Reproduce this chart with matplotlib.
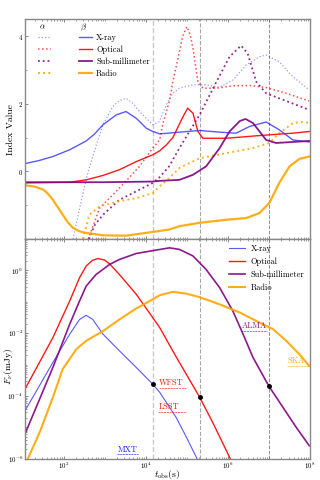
import matplotlib
matplotlib.use('Agg')
import matplotlib.pyplot as plt
import numpy as np

plt.rcParams['font.family'] = 'serif'
plt.rcParams['font.serif'] = ['cmr10', 'DejaVu Serif']
plt.rcParams['mathtext.fontset'] = 'cm'
plt.rcParams['axes.formatter.use_mathtext'] = True

# ---- index values (top panel), log10(t) and value ----
lt_xray_beta = [1.06, 1.4, 1.74, 2.15, 2.55, 2.75, 2.96, 3.28, 3.52, 3.77, 4.01, 4.17, 4.34, 4.82, 5.31, 5.8, 6.2, 6.53, 6.93, 7.25, 7.58, 7.98]
xray_beta = [0.23, 0.32, 0.44, 0.64, 0.90, 1.10, 1.38, 1.67, 1.77, 1.57, 1.28, 1.18, 1.11, 1.16, 1.21, 1.16, 1.13, 1.33, 1.46, 1.23, 0.93, 0.87]
lt_xray_alpha = [2.23, 2.42, 2.6, 2.8, 2.96, 3.2, 3.36, 3.52, 3.68, 3.85, 4.17, 4.33, 4.5, 4.66, 4.82, 5.15, 5.47, 5.8, 6.12, 6.45, 6.77, 6.93, 7.25, 7.58, 7.98]
xray_alpha = [-2.0, -0.93, 0.0, 0.79, 1.38, 1.92, 2.1, 2.16, 2.02, 1.77, 1.38, 1.47, 1.97, 2.31, 2.46, 2.56, 2.56, 2.49, 2.70, 3.15, 3.39, 3.44, 3.24, 2.80, 2.41]

lt_opt_beta = [1.06, 2.15, 2.55, 2.96, 3.36, 3.77, 4.17, 4.34, 4.5, 4.66, 4.82, 4.9, 5.02, 5.15, 5.27, 5.39, 5.96, 6.77, 7.58, 7.98]
opt_beta = [-0.34, -0.32, -0.25, -0.12, 0.05, 0.29, 0.49, 0.61, 0.78, 1.0, 1.4, 1.6, 1.87, 1.72, 1.18, 0.98, 0.98, 1.06, 1.13, 1.18]
lt_opt_alpha = [2.6, 2.88, 3.2, 3.52, 3.85, 4.17, 4.34, 4.41, 4.57, 4.66, 4.82, 4.9, 5.0, 5.08, 5.15, 5.27, 5.39, 5.72, 6.12, 6.53, 6.93, 7.42, 7.98]
opt_alpha = [-2.0, -1.08, -0.69, -0.29, 0.15, 0.69, 0.93, 1.38, 2.05, 2.65, 3.54, 4.0, 4.28, 4.05, 3.64, 2.65, 2.46, 2.46, 2.53, 2.54, 2.48, 2.31, 2.08]

lt_smm_beta = [1.06, 3.0, 4.17, 4.34, 4.82, 5.15, 5.47, 5.8, 6.04, 6.29, 6.43, 6.61, 6.93, 7.17, 7.58, 7.98]
smm_beta = [-0.32, -0.32, -0.30, -0.28, -0.25, -0.10, 0.15, 0.69, 1.18, 1.49, 1.55, 1.43, 0.93, 0.84, 0.87, 0.90]
lt_smm_alpha = [2.62, 2.75, 2.96, 3.36, 3.77, 4.17, 4.34, 4.57, 4.82, 5.31, 5.72, 6.04, 6.32, 6.48, 6.69, 6.93, 7.42, 7.98]
smm_alpha = [-2.0, -1.6, -1.28, -0.84, -0.59, -0.34, -0.17, 0.15, 0.69, 1.67, 2.65, 3.39, 3.72, 3.49, 2.65, 2.31, 2.08, 1.82]

lt_radio_beta = [1.06, 1.3, 1.51, 1.62, 1.74, 1.86, 1.98, 2.1, 2.23, 2.38, 2.55, 2.96, 3.52, 4.17, 4.57, 4.82, 5.31, 5.96, 6.45, 6.77, 7.01, 7.25, 7.5, 7.74, 7.98]
radio_beta = [-0.41, -0.45, -0.54, -0.66, -0.84, -1.06, -1.28, -1.5, -1.67, -1.77, -1.82, -1.89, -1.90, -1.79, -1.72, -1.62, -1.52, -1.43, -1.38, -1.23, -0.93, -0.34, 0.15, 0.37, 0.44]
lt_radio_alpha = [2.47, 2.63, 2.88, 3.36, 3.77, 4.17, 4.34, 4.57, 4.82, 5.31, 5.96, 6.61, 7.01, 7.25, 7.58, 7.82, 7.98]
radio_alpha = [-2.0, -1.28, -1.03, -0.88, -0.79, -0.64, -0.44, -0.2, 0.1, 0.39, 0.54, 0.69, 0.84, 1.13, 1.43, 1.46, 1.43]

# ---- light curves (bottom panel), log10(t) and log10(F/mJy) ----
lt_xray = [1.06, 1.74, 2.15, 2.39, 2.55, 2.71, 2.96, 3.36, 3.77, 4.17, 4.34, 4.74, 4.99, 5.25]
lf_xray = [-4.47, -2.93, -2.03, -1.56, -1.43, -1.56, -2.03, -2.56, -3.09, -3.62, -3.88, -4.68, -5.31, -6.0]
lt_opt = [1.06, 1.74, 2.15, 2.39, 2.55, 2.7, 2.84, 3.0, 3.12, 3.36, 3.77, 4.17, 4.34, 4.74, 5.15, 5.31, 5.63, 6.06]
lf_opt = [-3.78, -2.14, -0.97, -0.23, 0.14, 0.32, 0.38, 0.33, 0.21, -0.13, -0.76, -1.50, -1.82, -2.75, -3.67, -4.03, -4.84, -6.0]
lt_smm = [1.06, 1.74, 2.15, 2.39, 2.55, 2.79, 3.12, 3.36, 3.77, 4.17, 4.58, 4.82, 5.15, 5.47, 5.8, 6.12, 6.37, 6.61, 7.0, 7.34, 7.66, 7.98]
lf_smm = [-5.21, -3.09, -1.71, -0.97, -0.50, -0.13, 0.19, 0.35, 0.54, 0.63, 0.72, 0.67, 0.46, 0.03, -0.55, -1.29, -2.03, -2.77, -3.69, -4.36, -4.99, -5.58]
lt_radio = [1.13, 1.42, 1.74, 1.98, 2.31, 2.55, 2.96, 3.36, 3.77, 4.17, 4.34, 4.66, 4.99, 5.31, 5.8, 6.29, 6.77, 7.1, 7.42, 7.74, 7.98]
lf_radio = [-6.0, -5.15, -4.04, -3.14, -2.51, -2.24, -1.93, -1.56, -1.21, -0.92, -0.79, -0.68, -0.74, -0.85, -1.08, -1.34, -1.66, -1.87, -2.24, -2.67, -3.04]

# observation epochs and detections
lt_epochs = [4.18, 5.31, 7.0]
lf_dots = [-3.62, -4.03, -3.69]

# instrument sensitivities: name, colour, log t start, log t end, log F
instruments = ['WFST', 'LSST', 'MXT', 'ALMA', 'SKA']
inst_colors = ['red', 'red', 'blue', 'purple', 'orange']
inst_lt0 = [4.33, 4.31, 3.31, 6.33, 7.45]
inst_lt1 = [4.99, 4.99, 3.8, 6.96, 8.0]
inst_lf = [-3.73, -4.51, -5.86, -1.93, -3.04]

bands = ['X-ray', 'Optical', 'Sub-millimeter', 'Radio']

T = lambda l: 10 ** np.array(l)

fig, ax = plt.subplots(nrows=2, ncols=1, sharex=True, figsize=(3.2, 4.8), dpi=100)
fig.subplots_adjust(left=0.078, right=0.969, top=0.96, bottom=0.044, hspace=0)

# top: alpha (dotted) and beta (solid)
a = ax[0]
h_a = []
h_b = []
h_a.append(a.plot(T(lt_xray_alpha), xray_alpha, ':', color='blue', alpha=0.4, lw=0.9)[0])
h_a.append(a.plot(T(lt_opt_alpha), opt_alpha, ':', color='red', alpha=0.7, lw=1.1)[0])
h_a.append(a.plot(T(lt_smm_alpha), smm_alpha, ':', color='purple', alpha=0.85, lw=1.3)[0])
h_a.append(a.plot(T(lt_radio_alpha), radio_alpha, ':', color='orange', alpha=0.85, lw=1.4)[0])
h_b.append(a.plot(T(lt_xray_beta), xray_beta, '-', color='blue', alpha=0.65, lw=1.0)[0])
h_b.append(a.plot(T(lt_opt_beta), opt_beta, '-', color='red', alpha=0.9, lw=1.0)[0])
h_b.append(a.plot(T(lt_smm_beta), smm_beta, '-', color='purple', alpha=0.9, lw=1.3)[0])
h_b.append(a.plot(T(lt_radio_beta), radio_beta, '-', color='orange', alpha=0.9, lw=1.6)[0])

a.set_xscale('log')
a.set_xlim(11.5, 1e8)
a.set_ylim(-2, 4.5)
a.set_yticks([0, 2, 4])
a.set_yticks([-1, 1, 3], minor=True)
a.set_ylabel('Index Value', fontsize=7)
a.yaxis.set_label_coords(-0.035, 0.5)
a.legend(h_a + h_b, [''] * 4 + bands, ncol=2, frameon=False, fontsize=6,
         loc='upper left', bbox_to_anchor=(0.045, 0.935), borderpad=0, borderaxespad=0,
         handlelength=1.6, handletextpad=0.5, columnspacing=2.8, labelspacing=0.45)
a.text(0.06, 0.962, r'$\alpha$', transform=a.transAxes, fontsize=6, ha='center', va='center')
a.text(0.204, 0.962, r'$\beta$', transform=a.transAxes, fontsize=6, ha='center', va='center')

# bottom: light curves
b = ax[1]
h_f = []
h_f.append(b.plot(T(lt_xray), T(lf_xray), color='blue', alpha=0.65, lw=0.8)[0])
h_f.append(b.plot(T(lt_opt), T(lf_opt), color='red', alpha=0.9, lw=1.0)[0])
h_f.append(b.plot(T(lt_smm), T(lf_smm), color='purple', alpha=0.9, lw=1.2)[0])
h_f.append(b.plot(T(lt_radio), T(lf_radio), color='orange', alpha=0.9, lw=1.5)[0])
b.plot(T(lt_epochs), T(lf_dots), 'o', color='black', ms=2.5, zorder=5)

for i in range(len(instruments)):
    b.plot([10 ** inst_lt0[i], 10 ** inst_lt1[i]], [10 ** inst_lf[i]] * 2, color=inst_colors[i],
           lw=0.5, ls=(0, (3, 1)), alpha=0.8)
    b.text(10 ** inst_lt0[i], 10 ** (inst_lf[i] + 0.02), instruments[i], color=inst_colors[i],
           fontsize=6, ha='left', va='bottom', alpha=0.9)

b.set_yscale('log')
b.set_ylim(1e-6, 1e1)
b.set_yticks([1e-6, 1e-4, 1e-2, 1e0])
b.yaxis.set_minor_locator(matplotlib.ticker.LogLocator(base=10, subs=np.arange(1, 10), numticks=50))
b.yaxis.set_minor_formatter(matplotlib.ticker.NullFormatter())
b.set_xticks([1e2, 1e4, 1e6, 1e8])
b.xaxis.set_minor_locator(matplotlib.ticker.LogLocator(base=10, subs=np.arange(1, 10), numticks=50))
b.xaxis.set_minor_formatter(matplotlib.ticker.NullFormatter())
b.set_xlim(11.5, 1e8)
b.set_ylabel(r'$F_{\nu}(\rm mJy)$', fontsize=7)
b.yaxis.set_label_coords(-0.035, 0.42)
b.set_xlabel(r'$t_{\rm obs}(\rm s)$', fontsize=7)
b.xaxis.set_label_coords(0.5, -0.04)
b.legend(h_f, bands, frameon=False, fontsize=6, loc='upper left', bbox_to_anchor=(0.715, 0.975),
         borderpad=0, borderaxespad=0, handlelength=1.9, handletextpad=0.7, labelspacing=0.55)

for p in ax:
    p.axvline(10 ** lt_epochs[0], color='#c8c8c8', ls='--', lw=1.0, zorder=0)
    p.axvline(10 ** lt_epochs[1], color='#a8a8a8', ls='--', lw=0.8, zorder=0)
    p.axvline(10 ** lt_epochs[2], color='#909090', ls='--', lw=0.7, zorder=0)
    p.tick_params(which='both', direction='in', top=True, labelsize=5, pad=1.5, color='#555555')
    p.tick_params(which='major', length=2.5, width=0.5)
    p.tick_params(which='minor', length=1.5, width=0.4)
    for s in p.spines.values():
        s.set_color('#888888')
        s.set_linewidth(1.0)

plt.savefig('out.png', dpi=100)
plt.close()
